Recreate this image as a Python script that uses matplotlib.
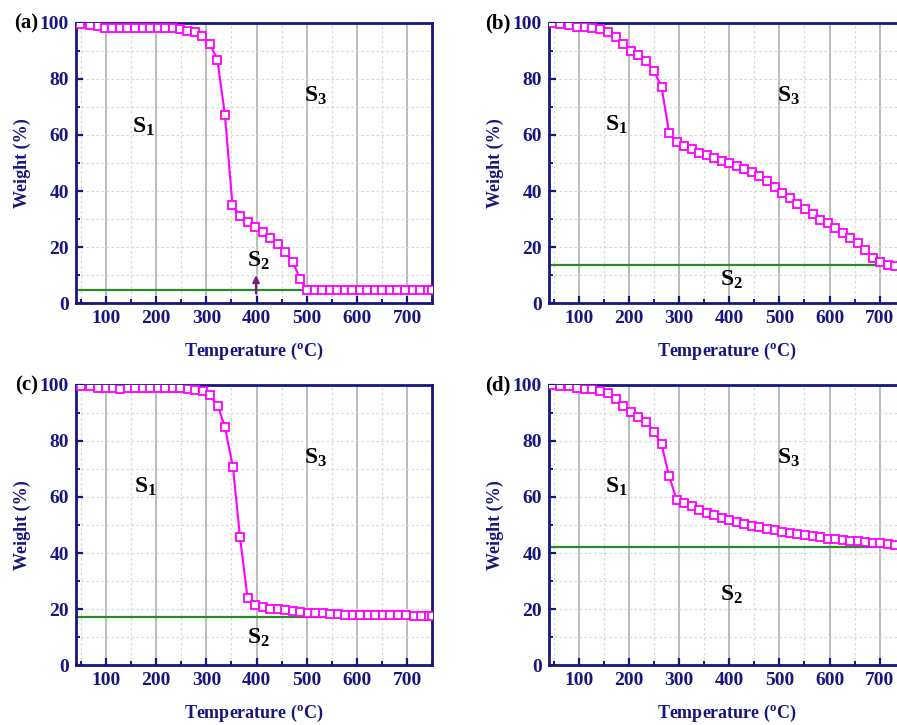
import matplotlib.pyplot as plt
from matplotlib.ticker import MultipleLocator

plt.rcParams['font.family'] = ['Liberation Serif', 'DejaVu Serif']
plt.rcParams['font.weight'] = 'bold'
plt.rcParams['mathtext.fontset'] = 'custom'
plt.rcParams['mathtext.rm'] = 'Liberation Serif'
plt.rcParams['mathtext.bf'] = 'Liberation Serif:bold'

navy = '#16167e'
magenta = '#ff00ff'
green = '#2a8a2a'

# (a)
temp_a = [48, 67, 83, 97, 112, 128, 142, 158, 173, 188, 203, 218, 233, 247, 262,
          277, 292, 307, 322, 337, 352, 367, 382, 397, 412, 427, 442, 457, 472,
          487, 501, 516, 531, 546, 561, 576, 591, 606, 621, 636, 651, 666, 681,
          696, 711, 726, 741, 750]
weight_a = [99.5, 99.2, 98.7, 98.2, 98, 98, 98, 98, 98, 98, 98, 98, 98, 97.7, 97.1,
            96.6, 95.4, 92.5, 86.7, 67.1, 35.0, 31.1, 28.9, 27.1, 25.3, 23.3, 21.1,
            18.4, 14.8, 8.6, 4.8, 4.8, 4.8, 4.8, 4.8, 4.8, 4.8, 4.8, 4.8, 4.8, 4.8,
            4.8, 4.8, 4.8, 4.8, 4.8, 4.8, 4.8]

# (b)
temp_b = [47, 63, 81, 97, 112, 127, 143, 159, 174, 189, 204, 219, 235, 250, 265,
          280, 295, 310, 325, 340, 355, 370, 386, 400, 416, 430, 446, 460, 476,
          491, 506, 521, 536, 551, 566, 581, 596, 611, 626, 641, 656, 671, 686,
          701, 716, 731, 746]
weight_b = [99.8, 99.5, 99.0, 98.6, 98.3, 98.2, 97.7, 96.8, 94.8, 92.3, 89.9, 88.4,
            86.3, 82.7, 77.2, 60.8, 57.6, 56.2, 54.9, 53.7, 52.7, 51.8, 50.8, 49.9,
            48.9, 47.9, 46.7, 45.2, 43.6, 41.6, 39.4, 37.4, 35.5, 33.5, 31.7, 29.8,
            28.5, 26.8, 25.2, 23.4, 21.4, 19.0, 16.3, 14.7, 13.5, 13.4, 13.3]

# (c)
temp_c = [50, 67, 83, 99, 113, 128, 143, 158, 173, 188, 203, 218, 233, 248, 263,
          278, 293, 307, 323, 337, 353, 367, 382, 397, 412, 427, 442, 457, 472,
          487, 502, 517, 532, 547, 562, 577, 592, 607, 622, 637, 652, 667, 682,
          697, 713, 727, 743, 750]
weight_c = [99.7, 99.5, 99.0, 98.8, 98.8, 98.5, 98.8, 98.8, 98.7, 98.7, 98.7, 98.7,
            98.7, 98.7, 98.6, 98.3, 97.6, 96.2, 92.4, 84.8, 70.6, 45.7, 24.0, 21.4,
            20.7, 20.2, 19.9, 19.6, 19.3, 19.0, 18.8, 18.6, 18.5, 18.3, 18.2, 18.1,
            18.1, 18.0, 17.9, 17.9, 17.9, 17.9, 17.9, 17.9, 17.7, 17.7, 17.6, 17.6]

# (d)
temp_d = [47, 63, 81, 97, 112, 127, 143, 159, 174, 189, 204, 219, 235, 250, 265,
          280, 295, 310, 325, 340, 355, 370, 386, 400, 416, 430, 446, 460, 476,
          491, 506, 521, 536, 551, 566, 581, 596, 611, 626, 641, 656, 671, 686,
          701, 716, 731, 746]
weight_d = [99.8, 99.5, 99.5, 99.0, 98.6, 98.6, 97.9, 97.0, 95.0, 92.4, 90.2, 88.5,
            86.9, 83.3, 78.8, 67.5, 59.0, 57.9, 56.7, 55.5, 54.4, 53.5, 52.6, 51.9,
            51.2, 50.5, 49.8, 49.2, 48.6, 48.1, 47.6, 47.1, 46.7, 46.3, 46.0, 45.6,
            45.2, 45.0, 44.8, 44.4, 44.2, 43.9, 43.7, 43.5, 43.2, 42.9, 42.6]

residue = [4.9, 13.6, 17.3, 42.3]
panel_labels = ['(a)', '(b)', '(c)', '(d)']

# label positions (S1, S2, S3) in data coords
s_pos = [
    [(174, 63), (404, 15), (517, 74)],
    [(175, 63.5), (405, 8.3), (518, 74)],
    [(178, 63.7), (404, 9.9), (517, 74)],
    [(175, 63.5), (405, 25), (518, 74)],
]

fig = plt.figure(figsize=(8.97, 7.25), dpi=100)

boxes = [
    [0.0847, 0.5817, 0.397, 0.387],
    [0.6117, 0.5817, 0.397, 0.387],
    [0.0847, 0.0823, 0.397, 0.387],
    [0.6117, 0.0823, 0.397, 0.387],
]
temps = [temp_a, temp_b, temp_c, temp_d]
weights = [weight_a, weight_b, weight_c, weight_d]

for i in range(4):
    ax = fig.add_axes(boxes[i])
    ax.set_xlim(40, 750)
    ax.set_ylim(0, 100)

    # grid
    ax.xaxis.set_major_locator(MultipleLocator(100))
    ax.xaxis.set_minor_locator(MultipleLocator(50))
    ax.yaxis.set_major_locator(MultipleLocator(20))
    ax.yaxis.set_minor_locator(MultipleLocator(10))
    ax.grid(axis='x', which='major', color='#a8a8a8', lw=1.1, ls='-')
    ax.grid(axis='x', which='minor', color='#d8d8d8', lw=0.9, ls=(0, (2, 2)))
    ax.grid(axis='y', which='both', color='#d8d8d8', lw=0.9, ls=(0, (2, 2)))
    ax.set_axisbelow(True)

    ax.axhline(residue[i], color=green, lw=1.6, zorder=2)
    ax.plot(temps[i], weights[i], color=magenta, lw=1.5, marker='s', ms=5.2,
            mfc='white', mec=magenta, mew=1.3, zorder=3, clip_on=True)

    for sp in ax.spines.values():
        sp.set_color(navy)
        sp.set_linewidth(2)
    ax.tick_params(which='both', direction='in', color=navy, labelcolor=navy,
                   top=False, right=False)
    ax.tick_params(which='major', length=5, width=1.6, labelsize=14, pad=5)
    ax.tick_params(which='minor', length=3, width=1.4)
    ax.set_xticks([100, 200, 300, 400, 500, 600, 700])
    for lab in ax.get_xticklabels() + ax.get_yticklabels():
        lab.set_fontweight('bold')

    ax.set_xlabel(r'Temperature ($^{\mathbf{o}}$C)', color=navy, fontsize=13,
                  fontweight='bold', labelpad=10)
    ax.set_ylabel('Weight (%)', color=navy, fontsize=13, fontweight='bold',
                  labelpad=6)

    names = [r'$\mathbf{S_1}$', r'$\mathbf{S_2}$', r'$\mathbf{S_3}$']
    for name, (x, y) in zip(names, s_pos[i]):
        ax.text(x, y, name, fontsize=17, color='black', ha='center', va='center')

    if i == 0:
        ax.annotate('', xy=(399, 11), xytext=(399, 2.5),
                    arrowprops=dict(arrowstyle='-|>', color='#7a1a7a', lw=1.5,
                                    mutation_scale=10))

    fig.text(boxes[i][0] - 38 / 897, boxes[i][1] + boxes[i][3] - 0.001,
             panel_labels[i], fontsize=15, fontweight='bold', ha='right',
             va='center')

fig.savefig('out.png', dpi=100)
